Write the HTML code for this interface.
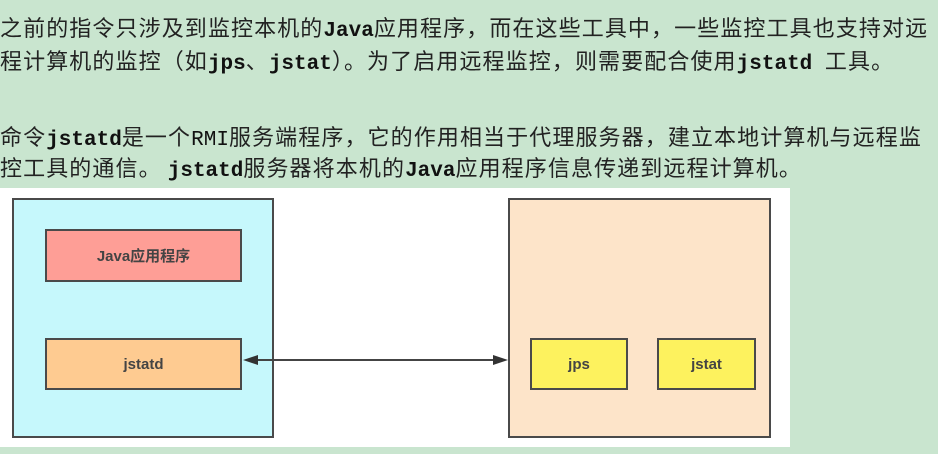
<!DOCTYPE html>
<html><head><meta charset="utf-8"><style>
body{margin:0;width:938px;height:454px;background:#c9e5cf;position:relative;overflow:hidden;font-family:"Liberation Sans","Noto Sans CJK SC",sans-serif;}
.l{position:absolute;left:0;white-space:nowrap;font-size:22px;letter-spacing:1.1px;color:#222;line-height:30px;font-family:"Noto Sans CJK SC",sans-serif;}
.m{font-family:"Liberation Mono",monospace;font-size:21px;letter-spacing:0;color:#111;font-weight:bold;}
.b{position:absolute;box-sizing:border-box;border:2px solid #4a4a4a;display:flex;align-items:center;justify-content:center;font-family:"Liberation Sans","Noto Sans CJK SC",sans-serif;font-weight:bold;font-size:15px;color:#444;}
</style></head><body>
<div class="l" style="top:12px">之前的指令只涉及到监控本机的<span class="m">Java</span>应用程序，而在这些工具中，一些监控工具也支持对远</div>
<div class="l" style="top:45px">程计算机的监控（如<span class="m">jps</span>、<span class="m">jstat</span>）。为了启用远程监控，则需要配合使用<span class="m">jstatd </span>工具。</div>
<div class="l" style="top:121px">命令<span class="m">jstatd</span>是一个<span class="m" style="font-weight:normal">RMI</span>服务端程序，它的作用相当于代理服务器，建立本地计算机与远程监</div>
<div class="l" style="top:152px">控工具的通信。 <span class="m">jstatd</span>服务器将本机的<span class="m">Java</span>应用程序信息传递到远程计算机。</div>
<div style="position:absolute;left:0;top:188px;width:790px;height:259px;background:#fff"></div>
<div class="b" style="left:12px;top:198px;width:262px;height:240px;background:#c6f8fc"></div>
<div class="b" style="left:45px;top:229px;width:197px;height:53px;background:#fe9e96">Java应用程序</div>
<div class="b" style="left:45px;top:338px;width:197px;height:52px;background:#fecb91">jstatd</div>
<div class="b" style="left:508px;top:198px;width:263px;height:240px;background:#fde4c9"></div>
<div class="b" style="left:530px;top:338px;width:98px;height:52px;background:#fdf25e">jps</div>
<div class="b" style="left:657px;top:338px;width:99px;height:52px;background:#fdf25e">jstat</div>
<svg style="position:absolute;left:0;top:0" width="938" height="454">
<line x1="250" y1="360" x2="500" y2="360" stroke="#444" stroke-width="2"/>
<polygon points="243,360 258,355 258,365" fill="#333"/>
<polygon points="508,360 493,355 493,365" fill="#333"/>
</svg>
</body></html>
